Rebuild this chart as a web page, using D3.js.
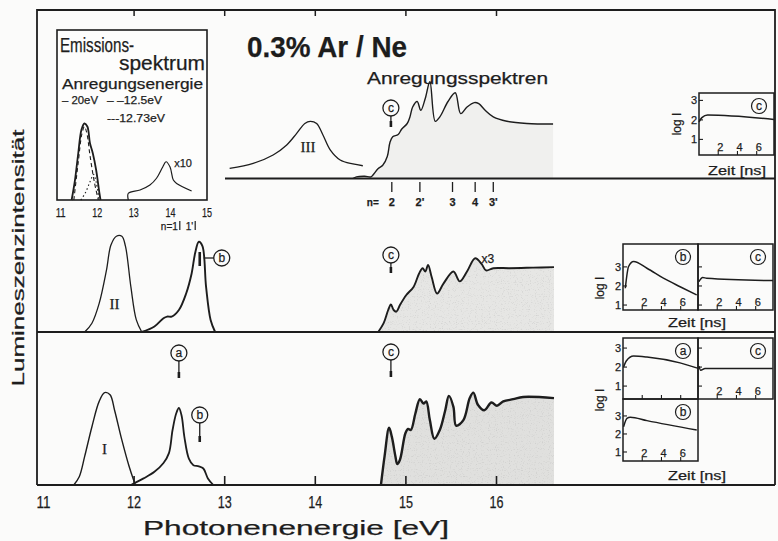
<!DOCTYPE html>
<html>
<head>
<meta charset="utf-8">
<script src="https://cdn.jsdelivr.net/npm/d3@7"></script>
<style>
  html, body { margin: 0; padding: 0; background: #fbfbfa; }
  svg { display: block; }
  text { font-family: "Liberation Sans", Arial, sans-serif; fill: #1d1d1d; stroke: #1d1d1d; stroke-width: 0.25; }
  .serif { font-family: "Liberation Serif", "DejaVu Serif", serif; }
</style>
</head>
<body>
<svg id="chart" width="778" height="541"></svg>
<script>
// ---------- data ----------
// photon energy axis (eV)
const energyTicks = [11, 12, 13, 14, 15, 16];
const frameTicks = [12, 13, 14, 15, 16];

// bottom panel: emission band I, excitation near n=1 (a, b) and excitation above 14.7 eV
const bandI = [[11.34,0],[11.40,0.075],[11.46,0.26],[11.54,0.53],[11.62,0.76],[11.68,0.84],[11.74,0.82],[11.79,0.68],[11.87,0.41],[11.95,0.17],[12.00,0.045],[12.02,0]];
const excitI_low = [[11.97,0],[12.11,0.06],[12.23,0.12],[12.33,0.2],[12.39,0.29],[12.43,0.5],[12.47,0.65],[12.50,0.70],[12.53,0.63],[12.56,0.44],[12.61,0.24],[12.66,0.18],[12.72,0.17],[12.77,0.15],[12.82,0.06],[12.88,0]];
const excitI_high = [[14.73,0],[14.77,0.26],[14.82,0.52],[14.85,0.44],[14.89,0.26],[14.91,0.19],[14.94,0.23],[15.00,0.47],[15.03,0.51],[15.06,0.50],[15.11,0.65],[15.16,0.78],[15.20,0.74],[15.23,0.76],[15.27,0.59],[15.32,0.42],[15.38,0.50],[15.44,0.68],[15.48,0.81],[15.53,0.71],[15.56,0.54],[15.64,0.59],[15.71,0.79],[15.75,0.84],[15.80,0.73],[15.87,0.68],[15.95,0.75],[16.01,0.72],[16.08,0.76],[16.19,0.78],[16.30,0.80],[16.64,0.79]];

// middle panel: emission band II, excitation near n=1' (b) and above 14.7 eV (x3)
const bandII = [[11.46,0],[11.54,0.08],[11.62,0.26],[11.70,0.56],[11.75,0.79],[11.81,0.87],[11.87,0.87],[11.91,0.78],[11.97,0.41],[12.03,0.11],[12.09,0]];
const excitII_low = [[12.09,0],[12.23,0.05],[12.33,0.125],[12.37,0.14],[12.42,0.14],[12.50,0.2],[12.58,0.35],[12.64,0.53],[12.68,0.72],[12.72,0.82],[12.76,0.78],[12.80,0.41],[12.85,0.11],[12.90,0]];
const excitII_high = [[14.70,0],[14.76,0.08],[14.81,0.2],[14.84,0.25],[14.87,0.2],[14.90,0.185],[14.94,0.245],[15.01,0.336],[15.09,0.41],[15.15,0.53],[15.19,0.58],[15.22,0.55],[15.25,0.61],[15.29,0.50],[15.35,0.35],[15.42,0.44],[15.53,0.55],[15.60,0.46],[15.68,0.55],[15.77,0.67],[15.84,0.62],[15.89,0.56],[15.97,0.58],[16.15,0.58],[16.41,0.585],[16.64,0.59]];

// top panel: emission band III and its excitation spectrum
const bandIII = [[13.06,0.093],[13.32,0.138],[13.54,0.214],[13.69,0.305],[13.80,0.41],[13.89,0.50],[13.95,0.52],[14.02,0.50],[14.09,0.395],[14.17,0.26],[14.28,0.168],[14.42,0.132],[14.53,0.116]];
const excitIII = [[14.42,0],[14.46,0.015],[14.55,0.02],[14.62,0.015],[14.64,0.03],[14.70,0.09],[14.75,0.12],[14.80,0.20],[14.83,0.33],[14.86,0.38],[14.92,0.40],[14.96,0.45],[15.02,0.50],[15.05,0.56],[15.08,0.65],[15.13,0.70],[15.17,0.62],[15.22,0.73],[15.27,0.88],[15.33,0.52],[15.38,0.56],[15.47,0.70],[15.55,0.78],[15.61,0.59],[15.68,0.65],[15.76,0.69],[15.81,0.68],[15.88,0.62],[15.97,0.56],[16.12,0.52],[16.34,0.50],[16.63,0.495]];

// exciton series marks in the top panel
const excitonNames = ["2", "2'", "3", "4", "3'"];
const excitonEnergies = [14.85, 15.16, 15.52, 15.77, 15.97];
// n = 1 and 1' positions
const n1Names = ["n=1", "1'"];
const n1Energies = [12.51, 12.68];

// emission spectrum inset, three excitation energies
const emisTicks = [11, 12, 13, 14, 15];
const emis20 = [[11.30,0],[11.39,0.13],[11.48,0.31],[11.57,0.47],[11.65,0.51],[11.73,0.49],[11.80,0.38],[11.88,0.31],[11.97,0.2],[12.06,0.045],[12.09,0]];
const emis125 = [[11.36,0],[11.48,0.25],[11.58,0.44],[11.65,0.49],[11.72,0.44],[11.80,0.3],[11.92,0.12],[12.03,0]];
const emis1273 = [[11.55,0],[11.68,0.05],[11.80,0.12],[11.90,0.17],[11.97,0.12],[12.05,0]];
const emisX10 = [[12.85,0],[12.85,0.045],[13.17,0.067],[13.44,0.1],[13.62,0.145],[13.79,0.22],[13.88,0.255],[13.99,0.22],[14.08,0.133],[14.17,0.11],[14.58,0.06]];

// decay curves: [time ns, log I]
const timeTicks = [2, 4, 6];
const logTicks = [1, 2, 3];
const decayTopC = [[0,1.9],[0.3,2.12],[0.9,2.25],[7.8,2.02]];
const decayMidB = [[0.24,1.88],[0.58,3.02],[1.1,3.28],[2.49,2.93],[4.2,2.41],[5.94,1.96],[7.67,1.53]];
const decayMidC = [[0.1,2.23],[0.49,2.44],[0.9,2.41],[7.8,2.28]];
const decayBotA = [[0.06,2.0],[0.34,2.32],[1.1,2.58],[2.49,2.53],[5.93,2.22],[7.83,1.93]];
const decayBotC = [[0.1,2.05],[0.28,1.83],[0.73,1.93],[7.77,1.93]];
const decayBotB = [[0.06,2.4],[0.41,2.87],[0.76,2.93],[2.49,2.74],[7.67,2.22]];

// ---------- drawing ----------
const ink = "#1d1d1d";
const svg = d3.select("#chart");

// stippled grey for the shaded excitation spectra
const defs = svg.append("defs");
const stip = defs.append("filter").attr("id", "stipple")
  .attr("x", 0).attr("y", 0).attr("width", 1).attr("height", 1);
stip.append("feTurbulence").attr("type", "fractalNoise").attr("baseFrequency", 0.85)
  .attr("numOctaves", 1).attr("seed", 7).attr("result", "noise");
stip.append("feColorMatrix").attr("in", "noise").attr("type", "matrix")
  .attr("values", "0 0 0 0 0.45  0 0 0 0 0.45  0 0 0 0 0.45  0 0 0 1.7 -0.95")
  .attr("result", "dots");
stip.append("feComposite").attr("in", "dots").attr("in2", "SourceGraphic")
  .attr("operator", "in").attr("result", "clip");
const merge = stip.append("feMerge");
merge.append("feMergeNode").attr("in", "SourceGraphic");
merge.append("feMergeNode").attr("in", "clip");

const frame = { left: 37, top: 10, right: 775, bottom: 485 };
const x = d3.scaleLinear().domain([11, 16]).range([43, 496]);
const panels = {
  top: d3.scaleLinear().domain([0, 1]).range([178.5, 68.5]),
  mid: d3.scaleLinear().domain([0, 1]).range([332, 222]),
  bot: d3.scaleLinear().domain([0, 1]).range([485, 375])
};

function txt(g, s, px, py, size, o = {}) {
  const t = g.append("text").attr("x", px).attr("y", py)
    .attr("font-size", size).attr("text-anchor", o.anchor || "start").text(s);
  if (o.len) t.attr("textLength", o.len).attr("lengthAdjust", "spacingAndGlyphs");
  if (o.bold) t.attr("font-weight", "bold");
  if (o.cls) t.attr("class", o.cls);
  if (o.rotate) t.attr("transform", `rotate(${o.rotate},${px},${py})`);
  return t;
}
function seg(g, x1, y1, x2, y2, w) {
  return g.append("line").attr("x1", x1).attr("y1", y1).attr("x2", x2).attr("y2", y2)
    .attr("stroke", ink).attr("stroke-width", w || 1.4);
}

const curve = d3.curveCatmullRom.alpha(0.5);
function spectrum(data, y, width, fill, grain) {
  if (fill) {
    const a = svg.append("path").datum(data)
      .attr("d", d3.area().x(d => x(d[0])).y0(y(0)).y1(d => y(d[1])).curve(curve))
      .attr("fill", fill).attr("stroke", "none");
    if (grain) a.attr("filter", "url(#stipple)");
  }
  svg.append("path").datum(data)
    .attr("d", d3.line().x(d => x(d[0])).y(d => y(d[1])).curve(curve))
    .attr("fill", "none").attr("stroke", ink).attr("stroke-width", width)
    .attr("stroke-linejoin", "round");
}

// gray fills under the excitation spectra
spectrum(excitIII, panels.top, 1.4, "#f0f0ee", false);
spectrum(excitII_high, panels.mid, 1.9, "#e6e6e4", true);
spectrum(excitI_high, panels.bot, 2.4, "#e0e0de", true);

// emission bands and low-energy excitation
spectrum(bandIII, panels.top, 1.3);
spectrum(bandII, panels.mid, 1.3);
spectrum(excitII_low, panels.mid, 1.9);
spectrum(bandI, panels.bot, 1.4);
spectrum(excitI_low, panels.bot, 1.8);

// frame and panel baselines
svg.append("path")
  .attr("d", `M${frame.left},${frame.bottom}V${frame.top}H${frame.right}V${frame.bottom}`)
  .attr("fill", "none").attr("stroke", ink).attr("stroke-width", 1.8);
seg(svg, frame.left, panels.bot(0), frame.right, panels.bot(0), 2.2);
seg(svg, frame.left, panels.mid(0), frame.right, panels.mid(0), 2.0);
seg(svg, 225, panels.top(0), frame.right, panels.top(0), 1.9);

// energy axis
const axB = svg.append("g").attr("transform", `translate(0,${frame.bottom})`)
  .call(d3.axisBottom(x).tickValues(energyTicks).tickSize(-9).tickPadding(12).tickFormat(d3.format("d")));
axB.select(".domain").remove();
axB.selectAll(".tick line").attr("stroke", ink).attr("stroke-width", 1.6)
  .filter(d => d === 11).remove();
axB.selectAll(".tick text").attr("font-size", 16).attr("fill", ink)
  .attr("font-family", "Liberation Sans, Arial, sans-serif")
  .attr("textLength", 14).attr("lengthAdjust", "spacingAndGlyphs");

const axT = svg.append("g").attr("transform", `translate(0,${frame.top})`)
  .call(d3.axisTop(x).tickValues(frameTicks).tickSize(-6).tickFormat(""));
axT.select(".domain").remove();
axT.selectAll(".tick line").attr("stroke", ink).attr("stroke-width", 1.5);

txt(svg, "Photonenenergie [eV]", 143, 535, 21, { len: 306 });
txt(svg, "Lumineszenzintensität", 24, 258, 16, { anchor: "middle", len: 257, rotate: -90 });

// titles
txt(svg, "0.3% Ar / Ne", 247, 57, 30, { bold: true, len: 160 });
txt(svg, "Anregungsspektren", 367, 84, 16, { len: 181 });

// roman numerals for the emission bands
txt(svg, "III", 308, 152, 15, { anchor: "middle", cls: "serif" });
txt(svg, "II", x(11.79), 309, 15, { anchor: "middle", cls: "serif" });
txt(svg, "I", x(11.68), 454, 15, { anchor: "middle", cls: "serif" });

// exciton marks (top panel)
excitonEnergies.forEach((e, i) => {
  seg(svg, x(e), 182, x(e), 192, 1.3);
  txt(svg, excitonNames[i], x(e), 206, 11, { anchor: "middle", bold: true });
});
txt(svg, "n=", x(14.64), 206, 10, { anchor: "middle", bold: true });

// n=1, 1' marks
n1Energies.forEach((e, i) => {
  seg(svg, x(e), 221, x(e), 230, 1.2);
  txt(svg, n1Names[i], x(e) - 2, 230, 10, { anchor: "end" });
});

// circled markers with arrows
function marker(letter, cx, cy, len) {
  svg.append("circle").attr("cx", cx).attr("cy", cy).attr("r", 8)
    .attr("fill", "none").attr("stroke", ink).attr("stroke-width", 1.3);
  txt(svg, letter, cx, cy + 4, 12, { anchor: "middle" });
  if (len) {
    seg(svg, cx, cy + 8, cx, cy + 8 + len, 1.3);
    seg(svg, cx, cy + 2 + len, cx, cy + 8 + len, 2.6);
  }
}
marker("c", x(14.84), 108, 11);
marker("c", x(14.84), 255, 10);
marker("c", x(14.84), 352, 17);
marker("a", x(12.50), 353, 17);
marker("b", x(12.73), 415, 19);
// b in the middle panel points sideways to the peak
marker("b", x(12.73) + 22, 258, 0);
seg(svg, x(12.73) + 4, 258, x(12.73) + 14, 258, 1.3);
seg(svg, x(12.73), 252, x(12.73), 266, 2.6);
txt(svg, "x3", x(15.91), 263, 12, { anchor: "middle" });

// ---------- emission spectrum inset ----------
const ib = { x0: 57, x1: 207, y0: 30, y1: 200 };
const xi = d3.scaleLinear().domain([10.9, 15]).range([ib.x0, ib.x1]);
const yi = d3.scaleLinear().domain([0, 1]).range([ib.y1, ib.y1 - 150]);
svg.append("rect").attr("x", ib.x0).attr("y", ib.y0)
  .attr("width", ib.x1 - ib.x0).attr("height", ib.y1 - ib.y0)
  .attr("fill", "#fdfdfc").attr("stroke", ink).attr("stroke-width", 1.6);
const lineI = d3.line().x(d => xi(d[0])).y(d => yi(d[1])).curve(curve);
[[emis1273, "1.5,2.5", 1.1], [emis125, "4,3", 1.1], [emis20, null, 1.8], [emisX10, null, 1.2]]
  .forEach(([data, dash, w]) => {
    const p = svg.append("path").datum(data).attr("d", lineI)
      .attr("fill", "none").attr("stroke", ink).attr("stroke-width", w);
    if (dash) p.attr("stroke-dasharray", dash);
  });
emisTicks.forEach(v => txt(svg, String(v), xi(v), 217, 13, { anchor: "middle", len: 10 }));
txt(svg, "x10", 183, 167, 11, { anchor: "middle" });
txt(svg, "Emissions-", 60, 52, 20, { len: 74 });
txt(svg, "spektrum", 119, 70, 20, { len: 86 });
txt(svg, "Anregungsenergie", 62, 89, 14, { len: 141 });
txt(svg, "– 20eV", 62, 104, 11, { len: 36 });
txt(svg, "– –12.5eV", 107, 104, 11, { len: 55 });
txt(svg, "---12.73eV", 107, 122, 11, { len: 58 });

// ---------- decay insets ----------
function decayInset(box, data, letter, o) {
  const g = svg.append("g");
  const t = d3.scaleLinear().domain([0, 7.8]).range([box.x0, box.x1]);
  const ly = d3.scaleLinear().domain(box.log).range([box.y1, box.y0]);
  g.append("rect").attr("x", box.x0).attr("y", box.y0)
    .attr("width", box.x1 - box.x0).attr("height", box.y1 - box.y0)
    .attr("fill", "none").attr("stroke", ink).attr("stroke-width", 1.5);
  logTicks.forEach(v => {
    seg(g, box.x0, ly(v), box.x0 + 4, ly(v), 1.1);
    if (o.logLabels) txt(g, String(v), box.x0 - 2, ly(v) + 4, 11, { anchor: "end" });
  });
  timeTicks.forEach(v => {
    seg(g, t(v), box.y1, t(v), box.y1 - 4, 1.1);
    if (o.timeLabels) txt(g, String(v), t(v) + 2, box.y1 - 4, 11, { anchor: "middle" });
  });
  g.append("path").datum(data)
    .attr("d", d3.line().x(d => t(d[0])).y(d => ly(d[1])).curve(d3.curveMonotoneX))
    .attr("fill", "none").attr("stroke", ink).attr("stroke-width", 1.5);
  const cx = box.x1 - 15, cy = box.y0 + 13;
  g.append("circle").attr("cx", cx).attr("cy", cy).attr("r", 7.5)
    .attr("fill", "none").attr("stroke", ink).attr("stroke-width", 1.2);
  txt(g, letter, cx, cy + 4, 12, { anchor: "middle" });
}
decayInset({ x0: 699, x1: 774, y0: 93, y1: 155, log: [0.2, 3.38] }, decayTopC, "c", { logLabels: true, timeLabels: true });
decayInset({ x0: 623, x1: 698, y0: 244, y1: 310, log: [0.74, 4.2] }, decayMidB, "b", { logLabels: true, timeLabels: true });
decayInset({ x0: 698, x1: 773, y0: 244, y1: 310, log: [0.74, 4.2] }, decayMidC, "c", { timeLabels: true });
decayInset({ x0: 623, x1: 698, y0: 338, y1: 399, log: [0.32, 3.53] }, decayBotA, "a", { logLabels: true });
decayInset({ x0: 698, x1: 773, y0: 338, y1: 399, log: [0.32, 3.53] }, decayBotC, "c", { timeLabels: true });
decayInset({ x0: 623, x1: 698, y0: 399, y1: 461, log: [0.5, 3.94] }, decayBotB, "b", { logLabels: true, timeLabels: true });

txt(svg, "log I", 681, 124, 12, { anchor: "middle", rotate: -90 });
txt(svg, "log I", 604, 288, 12, { anchor: "middle", rotate: -90 });
txt(svg, "log I", 604, 400, 12, { anchor: "middle", rotate: -90 });
txt(svg, "Zeit [ns]", 737, 175, 13, { anchor: "middle", len: 58 });
txt(svg, "Zeit [ns]", 697, 327, 13, { anchor: "middle", len: 58 });
txt(svg, "Zeit [ns]", 697, 480, 13, { anchor: "middle", len: 58 });
</script>
</body>
</html>
